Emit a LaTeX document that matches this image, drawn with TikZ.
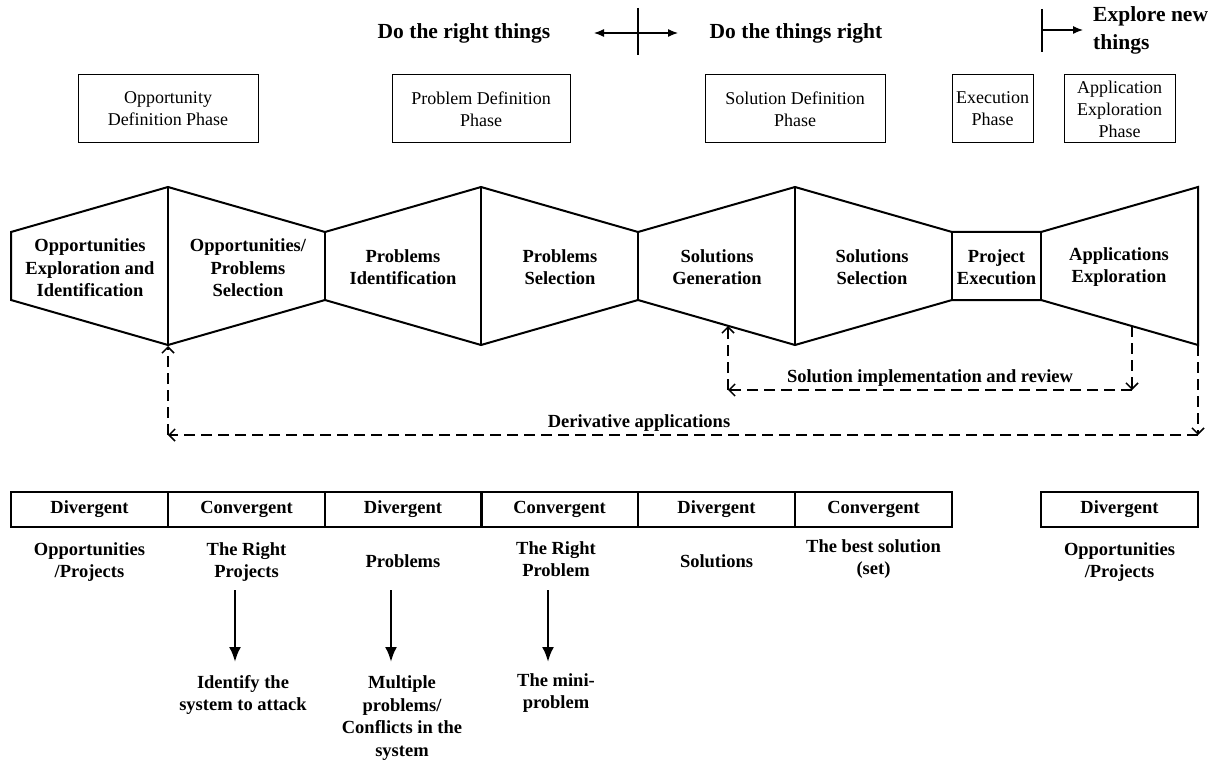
\documentclass[tikz,border=0pt]{standalone}
\usepackage{fontspec}
\setmainfont{Liberation Serif}
\usetikzlibrary{arrows.meta}
\begin{document}
\begin{tikzpicture}[x=1pt,y=-1pt,
  hdr/.style={font=\fontsize{21.5}{28}\selectfont\bfseries, inner sep=0pt},
  lbl/.style={font=\fontsize{18.5}{22.5}\selectfont\bfseries, align=center, inner sep=0pt},
  phase/.style={draw, line width=1pt, minimum height=68pt, inner sep=0pt,
                font=\fontsize{18}{22}\selectfont, align=center},
  cell/.style={draw, line width=2pt, minimum width=157pt, minimum height=35pt, inner sep=0pt,
               font=\fontsize{18.5}{22.5}\selectfont\bfseries},
  shp/.style={line width=2pt, line join=miter},
  hline/.style={line width=1.2pt},
  harrow/.style={line width=1.2pt, -{Latex[length=10pt,width=8pt]}},
  loop/.style={line width=1.5pt, dash pattern=on 11pt off 6pt, -{Straight Barb[length=6pt,width=12pt]}},
  down/.style={line width=2.5pt, -{Latex[length=15pt,width=12pt]}}
]
\useasboundingbox (0,0) rectangle (1218,762);

% ---------- header ----------
\node[hdr] (right) at (464,33) {Do the right things};
\node[hdr] (things) at (796,33) {Do the things right};
\coordinate (hc) at (638,33);
\coordinate (hl) at (594,33);
\coordinate (hr) at (678,33);
\coordinate (vt) at (638,8);
\coordinate (vb) at (638,55);
\draw[hline] (vt) -- (vb);
\draw[harrow] (hc) -- (hl);
\draw[harrow] (hc) -- (hr);
\node[hdr, anchor=west, align=left] (explore) at (1093,30) {Explore new\\things};
\coordinate (et) at (1042,9);
\coordinate (eb) at (1042,52);
\coordinate (em) at (1042,30);
\draw[hline] (et) -- (eb);
\draw[harrow, shorten >=10pt] (em) -- (explore.west);

% ---------- phase boxes ----------
\node[phase, minimum width=180pt] (p1) at (168,109) {Opportunity\\Definition Phase};
\node[phase, minimum width=178pt] (p2) at (481,109) {Problem Definition\\Phase};
\node[phase, minimum width=180pt] (p3) at (795,109) {Solution Definition\\Phase};
\node[phase, minimum width=81pt] (p4) at (992.5,109) {Execution\\Phase};
\node[phase, minimum width=111pt] (p5) at (1119.5,109) {Application\\Exploration\\Phase};

% ---------- main band ----------
\draw[shp] (11,232) -- (168,187) -- (325,232) -- (481,187) -- (638,232) -- (795,187)
  -- (952,232) -- (1041,232) -- (1198,187) -- (1198,345) -- (1041,300) -- (952,300)
  -- (795,345) -- (638,300) -- (481,345) -- (325,300) -- (168,345) -- (11,300) -- cycle;
\draw[shp] (168,187) -- (168,345);
\draw[shp] (325,232) -- (325,300);
\draw[shp] (481,187) -- (481,345);
\draw[shp] (638,232) -- (638,300);
\draw[shp] (795,187) -- (795,345);
\draw[shp] (952,232) -- (952,300);
\draw[shp] (1041,232) -- (1041,300);

\node[lbl] (s1) at (90,268) {Opportunities\\Exploration and\\Identification};
\node[lbl] (s2) at (248,268) {Opportunities/\\Problems\\Selection};
\node[lbl] (s3) at (403,267) {Problems\\Identification};
\node[lbl] (s4) at (560,267) {Problems\\Selection};
\node[lbl] (s5) at (717,267) {Solutions\\Generation};
\node[lbl] (s6) at (872,267) {Solutions\\Selection};
\node[lbl] (s7) at (996.5,267) {Project\\Execution};
\node[lbl] (s8) at (1119,267) {Applications\\Exploration};

% ---------- feedback loops ----------
\coordinate (a1) at (1132,326);
\coordinate (a2) at (1132,390);
\coordinate (a3) at (728,390);
\coordinate (a4) at (728,326);
\draw[loop] (a1) -- (a2);
\draw[loop] (a2) -- (a3);
\draw[loop] (a3) -- (a4);
\node[lbl, anchor=south] (impl) at (930,387) {Solution implementation and review};

\coordinate (b1) at (1198,345);
\coordinate (b2) at (1198,435);
\coordinate (b3) at (168,435);
\coordinate (b4) at (168,346);
\draw[loop] (b1) -- (b2);
\draw[loop] (b2) -- (b3);
\draw[loop] (b3) -- (b4);
\node[lbl, anchor=south] (deriv) at (639,432) {Derivative applications};

% ---------- bottom row ----------
\node[cell] (c1) at (89.5,509.5) {Divergent};
\node[cell] (c2) at (246.5,509.5) {Convergent};
\node[cell] (c3) at (403,509.5) {Divergent};
\node[cell] (c4) at (559.5,509.5) {Convergent};
\node[cell] (c5) at (716.5,509.5) {Divergent};
\node[cell] (c6) at (873.5,509.5) {Convergent};
\node[cell] (c7) at (1119.5,509.5) {Divergent};

\node[lbl] (o1) at (89.5,562) {Opportunities\\/Projects};
\node[lbl] (o2) at (246.5,562) {The Right\\Projects};
\node[lbl] (o3) at (403,561) {Problems};
\node[lbl] (o4) at (556,559) {The Right\\Problem};
\node[lbl] (o5) at (716.5,561) {Solutions};
\node[lbl] (o6) at (873.5,559) {The best solution\\(set)};
\node[lbl] (o7) at (1119.5,562) {Opportunities\\/Projects};

\node[lbl] (r2) at (243,695) {Identify the\\system to attack};
\node[lbl] (r3) at (402,718) {Multiple\\problems/\\Conflicts in the\\system};
\node[lbl] (r4) at (556,693) {The mini-\\problem};

\coordinate (d2) at (235,590);
\coordinate (d3) at (391,590);
\coordinate (d4) at (548,590);
\coordinate (e2) at (235,662);
\coordinate (e3) at (391,662);
\coordinate (e4) at (548,662);
\draw[down] (d2) -- (e2);
\draw[down] (d3) -- (e3);
\draw[down] (d4) -- (e4);
\end{tikzpicture}
\end{document}
